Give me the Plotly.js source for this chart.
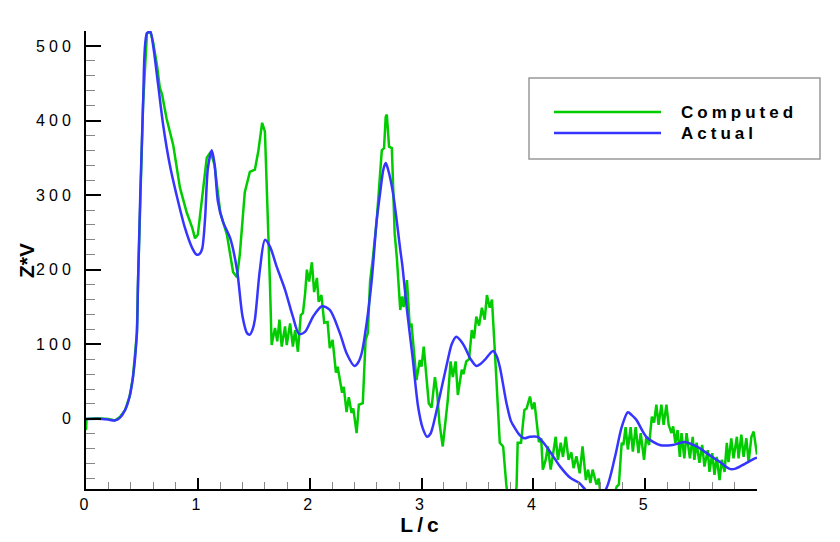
<!DOCTYPE html>
<html>
<head>
<meta charset="utf-8">
<script src="https://cdn.plot.ly/plotly-3.0.1.min.js"></script>
<style>
  html, body { margin: 0; padding: 0; background: #fff; }
  #chart { width: 840px; height: 542px; }
  .xtick text, .ytick text { letter-spacing: 4px; }
  .annotation-text { letter-spacing: 4px; }
  .annotation[data-index="2"] .annotation-text { letter-spacing: 0px; }
  .g-xtitle text { letter-spacing: 4px; }
</style>
</head>
<body>
<div id="chart"></div>
<script>
// ---- data ----
const computedX = [0,0.005,0.1,0.2,0.26,0.3,0.35,0.39,0.42,0.455,0.465,0.51,0.545,0.575,0.60,0.635,0.66,0.68,0.72,0.78,0.84,0.90,0.95,0.975,1.0,1.045,1.08,1.115,1.15,1.20,1.26,1.315,1.35,1.375,1.42,1.465,1.51,1.54,1.575,1.60,1.63,1.645,1.66,1.69,1.71,1.73,1.75,1.78,1.795,1.825,1.85,1.87,1.895,1.92,1.94,1.96,1.975,1.995,2.02,2.04,2.065,2.08,2.105,2.13,2.16,2.18,2.205,2.235,2.25,2.29,2.305,2.33,2.35,2.375,2.39,2.42,2.44,2.475,2.50,2.52,2.54,2.565,2.60,2.63,2.645,2.665,2.68,2.69,2.71,2.735,2.76,2.78,2.81,2.825,2.84,2.87,2.895,2.91,2.93,2.955,2.985,3.0,3.02,3.05,3.065,3.09,3.12,3.14,3.16,3.19,3.21,3.235,3.26,3.28,3.305,3.325,3.36,3.375,3.40,3.425,3.45,3.47,3.49,3.515,3.54,3.565,3.585,3.61,3.63,3.645,3.67,3.70,3.73,3.76,3.78,3.83,3.85,3.86,3.89,3.92,3.94,3.97,3.99,4.01,4.03,4.05,4.07,4.085,4.11,4.13,4.155,4.175,4.20,4.22,4.245,4.265,4.29,4.315,4.34,4.36,4.385,4.415,4.44,4.47,4.49,4.51,4.53,4.565,4.585,4.60,4.72,4.745,4.765,4.79,4.805,4.825,4.845,4.87,4.89,4.915,4.94,4.96,4.99,5.01,5.035,5.06,5.08,5.10,5.12,5.145,5.165,5.19,5.21,5.235,5.25,5.27,5.29,5.31,5.325,5.35,5.37,5.40,5.425,5.44,5.46,5.485,5.51,5.53,5.56,5.575,5.60,5.62,5.64,5.665,5.685,5.71,5.73,5.745,5.77,5.79,5.82,5.835,5.86,5.88,5.905,5.925,5.95,5.97,6.0];
const computedY = [-15,0,1,0,-2,2,12,30,56,115,182,421,517,519,505,474,444,435,403,367,310,277,256,242,247,304,350,358,340,277,247,197,190,220,304,331,334,358,397,385,260,180,99,122,104,133,97,124,99,128,97,119,90,139,142,169,200,184,210,170,189,157,166,129,130,95,106,62,70,35,43,9,29,8,14,-19,19,21,106,115,184,215,267,325,360,363,405,408,365,363,249,215,146,164,150,186,123,128,92,52,79,70,97,39,21,15,56,35,-5,-37,-5,25,77,56,77,32,66,60,77,80,119,108,137,125,149,133,166,149,160,123,52,-32,-37,-91,-110,-110,-91,-32,-32,12,14,30,13,22,-4,-31,-26,-68,-55,-37,-68,-46,-24,-55,-32,-51,-24,-55,-45,-66,-50,-73,-37,-82,-68,-86,-68,-88,-80,-100,-105,-91,-88,-32,-35,-11,-41,-11,-44,-11,-46,-19,-55,-24,-35,3,-5,19,-8,19,-8,19,-8,-19,-10,-32,-15,-51,-19,-53,-19,-53,-24,-55,-32,-59,-35,-64,-42,-71,-46,-75,-51,-82,-55,-71,-32,-58,-26,-53,-24,-53,-21,-51,-26,-58,-24,-17,-48];

const actualX = [0,0.15,0.2,0.26,0.3,0.35,0.39,0.42,0.455,0.465,0.51,0.545,0.575,0.60,0.645,0.69,0.75,0.81,0.885,0.95,0.99,1.02,1.04,1.065,1.09,1.125,1.15,1.18,1.225,1.29,1.35,1.40,1.44,1.465,1.49,1.51,1.555,1.6,1.645,1.705,1.78,1.85,1.905,1.96,2.03,2.11,2.18,2.27,2.33,2.40,2.435,2.465,2.51,2.555,2.60,2.63,2.66,2.68,2.70,2.745,2.81,2.83,2.87,2.92,2.97,3.01,3.05,3.08,3.10,3.16,3.235,3.27,3.31,3.35,3.385,3.44,3.49,3.53,3.565,3.64,3.67,3.70,3.76,3.80,3.83,3.88,3.92,3.97,4.04,4.08,4.15,4.24,4.33,4.41,4.46,4.55,4.65,4.73,4.79,4.845,4.88,4.92,5.01,5.13,5.245,5.35,5.46,5.58,5.67,5.755,5.80,5.87,5.98,6.0];
const actualY = [0,0,-1,-2,1,12,30,56,115,182,421,517,519,501,448,394,340,300,256,229,220,222,229,269,336,360,341,291,264,242,200,137,115,113,120,133,200,240,231,204,173,137,114,117,137,151,146,115,88,71,76,88,129,186,267,303,335,343,335,303,227,204,146,83,16,-12,-24,-20,-11,28,79,100,110,105,97,80,71,74,79,91,85,70,21,-3,-11,-22,-26,-24,-24,-30,-44,-64,-79,-86,-94,-110,-94,-51,-11,9,5,-1,-24,-35,-35,-31,-37,-49,-58,-67,-67,-62,-53,-52];

const seriesNames = ["Computed", "Actual"];
const xTickVals = [0,1,2,3,4,5];
const xTickText = ["0","1","2","3","4","5"];
const xTitle = "L/c";
const yTitle = "Z*V";

const GREEN = "#00cc00";
const BLUE = "#3535ff";
const FONT = "Liberation Sans, Arial, sans-serif";

const traces = [
  { x: computedX, y: computedY, name: seriesNames[0], type: "scatter", mode: "lines",
    line: { color: GREEN, width: 2.5 }, showlegend: false },
  { x: actualX, y: actualY, name: seriesNames[1], type: "scatter", mode: "lines",
    line: { color: BLUE, width: 2.5, shape: "spline", smoothing: 0.8 }, showlegend: false }
];

const L = 86, R = 757, T = 31, B = 489;
const W = R - L, H = B - T;
const px = v => (v - L) / W;
const py = v => (B - v) / H;

const layout = {
  width: 840, height: 542,
  margin: { l: L, r: 840 - R, t: T, b: 542 - B, pad: 0 },
  paper_bgcolor: "#fff", plot_bgcolor: "#fff",
  font: { family: FONT, color: "#000" },
  showlegend: false,
  xaxis: {
    range: [0, 6], tickmode: "array", tickvals: xTickVals, ticktext: xTickText,
    ticks: "inside", ticklen: 11, tickwidth: 2, tickcolor: "#000",
    showline: true, linewidth: 2, linecolor: "#000", mirror: false,
    showgrid: false, zeroline: false,
    tickfont: { family: FONT, size: 16, color: "#000" },
    minor: { dtick: 0.2, tick0: 0, ticks: "inside", ticklen: 7, tickwidth: 1, tickcolor: "#888", showgrid: false },
    title: { text: "<b>" + xTitle + "</b>", font: { family: FONT, size: 21, color: "#000" }, standoff: 0 }
  },
  yaxis: {
    range: [-94, 520], tick0: 0, dtick: 100,
    ticks: "inside", ticklen: 15, tickwidth: 2, tickcolor: "#000",
    showline: true, linewidth: 2, linecolor: "#000", mirror: false,
    showgrid: false, zeroline: false,
    tickfont: { family: FONT, size: 16, color: "#000" },
    ticklabelstandoff: 6,
    minor: { dtick: 20, tick0: 0, ticks: "inside", ticklen: 9, tickwidth: 1, tickcolor: "#888", showgrid: false }
  },
  shapes: [
    { type: "rect", xref: "paper", yref: "paper", x0: px(529), x1: px(820), y0: py(159), y1: py(78),
      line: { color: "#999", width: 1.5 }, fillcolor: "#fff" },
    { type: "line", xref: "paper", yref: "paper", x0: px(554), x1: px(661), y0: py(112), y1: py(112),
      line: { color: GREEN, width: 2.5 } },
    { type: "line", xref: "paper", yref: "paper", x0: px(554), x1: px(661), y0: py(133), y1: py(133),
      line: { color: BLUE, width: 2.5 } }
  ],
  annotations: [
    { xref: "paper", yref: "paper", x: px(679), y: py(112), xanchor: "left", yanchor: "middle",
      text: "<b>" + seriesNames[0] + "</b>", showarrow: false, font: { family: FONT, size: 17, color: "#000" } },
    { xref: "paper", yref: "paper", x: px(679), y: py(133), xanchor: "left", yanchor: "middle",
      text: "<b>" + seriesNames[1] + "</b>", showarrow: false, font: { family: FONT, size: 17, color: "#000" } },
    { xref: "paper", yref: "paper", x: px(26), y: py(261), xanchor: "center", yanchor: "middle",
      textangle: -90, text: "<b>" + yTitle + "</b>", showarrow: false,
      font: { family: FONT, size: 21, color: "#000" } }
  ]
};

Plotly.newPlot("chart", traces, layout, { displayModeBar: false, staticPlot: true });
</script>
</body>
</html>
